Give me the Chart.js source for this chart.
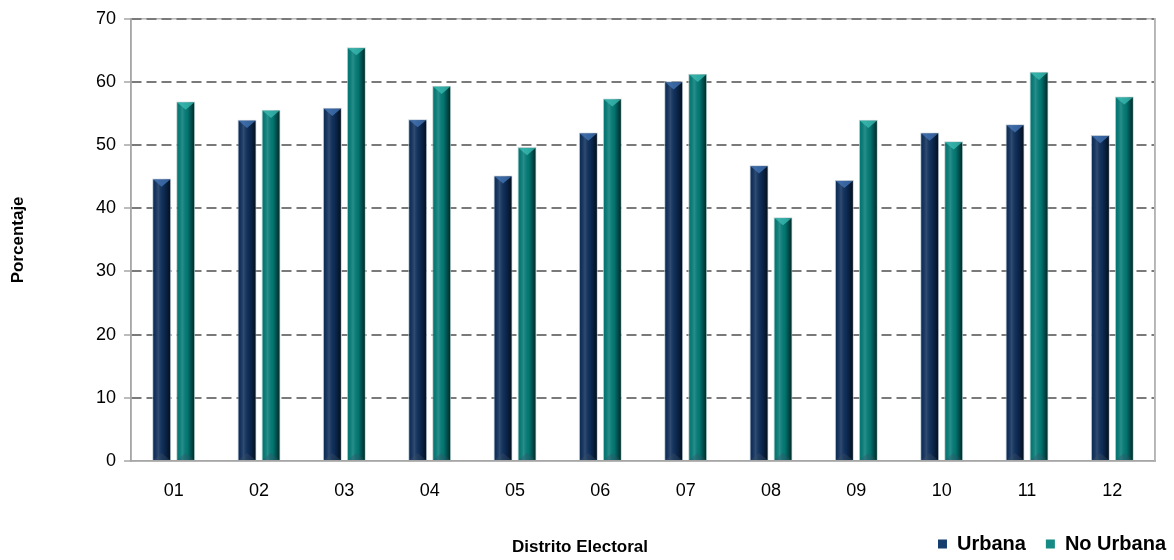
<!DOCTYPE html>
<html>
<head>
<meta charset="utf-8">
<script src="https://cdn.jsdelivr.net/npm/chart.js@4.4.0/dist/chart.umd.min.js"></script>
<style>
  html, body { margin: 0; padding: 0; background: #fff; }
  #wrap { width: 1174px; height: 560px; position: relative; }
</style>
</head>
<body>
<div id="wrap"><canvas id="chart" width="1174" height="560"></canvas></div>
<script>
const distritos = ['01', '02', '03', '04', '05', '06', '07', '08', '09', '10', '11', '12']
const urbana = [44.7, 54.0, 55.9, 54.1, 45.2, 52.0, 60.1, 46.8, 44.5, 52.0, 53.3, 51.6]
const noUrbana = [56.9, 55.6, 65.5, 59.4, 49.7, 57.4, 61.3, 38.6, 54.0, 50.6, 61.6, 57.7]
const yTicks = [0, 10, 20, 30, 40, 50, 60, 70]

const NAVY = '#0e2f5c'
const TEAL = '#047d79'
const FONT = '"Liberation Sans", Arial, sans-serif'

// light frame around the plot area, under the dashed grid
const framePlugin = {
  id: 'frame',
  beforeDraw(chart) {
    const { ctx, chartArea: a } = chart
    ctx.save()
    ctx.strokeStyle = '#b4b4b4'
    ctx.lineWidth = 1.5
    ctx.strokeRect(a.left, a.top, a.right - a.left, a.bottom - a.top)
    ctx.restore()
  }
}

// cylinder-like shading + bevel on top of every bar
const shadePlugin = {
  id: 'shade',
  afterDatasetsDraw(chart) {
    const ctx = chart.ctx
    chart.data.datasets.forEach((ds, i) => {
      const meta = chart.getDatasetMeta(i)
      const hi = i === 0 ? 'rgba(70,120,185,0.75)' : 'rgba(60,190,180,0.75)'
      meta.data.forEach(bar => {
        const l = bar.x - bar.width / 2 + 1
        const r = bar.x + bar.width / 2 - 1
        const top = bar.y + 1
        const bottom = bar.base
        const g = ctx.createLinearGradient(l, 0, r, 0)
        g.addColorStop(0, 'rgba(0,0,0,0.05)')
        g.addColorStop(0.3, 'rgba(255,255,255,0.14)')
        g.addColorStop(0.6, 'rgba(0,0,0,0.05)')
        g.addColorStop(1, 'rgba(0,0,0,0.65)')
        ctx.save()
        ctx.fillStyle = g
        ctx.fillRect(l, top, r - l, bottom - top)
        // top bevel
        const h = (r - l) * 0.42
        ctx.beginPath()
        ctx.moveTo(l, top)
        ctx.lineTo(r, top)
        ctx.lineTo(bar.x, top + h)
        ctx.closePath()
        ctx.fillStyle = hi
        ctx.fill()
        // faint bottom bevel
        ctx.beginPath()
        ctx.moveTo(l, bottom)
        ctx.lineTo(r, bottom)
        ctx.lineTo(bar.x, bottom - h)
        ctx.closePath()
        ctx.fillStyle = 'rgba(60,80,100,0.35)'
        ctx.fill()
        ctx.restore()
      })
    })
  }
}

// x axis title sits level with the legend, left of centre
const xTitlePlugin = {
  id: 'xTitle',
  afterDraw(chart) {
    const ctx = chart.ctx
    ctx.save()
    ctx.font = 'bold 17px ' + FONT
    ctx.fillStyle = '#000'
    ctx.textAlign = 'center'
    ctx.textBaseline = 'middle'
    ctx.fillText('Distrito Electoral', 580, 547)
    ctx.restore()
  }
}

const ctx = document.getElementById('chart').getContext('2d')
new Chart(ctx, {
  type: 'bar',
  data: {
    labels: distritos,
    datasets: [{
      label: 'Urbana',
      data: urbana,
      backgroundColor: NAVY,
      borderColor: 'rgba(185,198,212,0.9)',
      borderWidth: 1,
      barPercentage: 0.79,
      categoryPercentage: 0.5625
    }, {
      label: 'No Urbana',
      data: noUrbana,
      backgroundColor: TEAL,
      borderColor: 'rgba(185,205,205,0.9)',
      borderWidth: 1,
      barPercentage: 0.79,
      categoryPercentage: 0.5625
    }]
  },
  options: {
    responsive: false,
    animation: false,
    layout: { padding: { top: 16, right: -12, left: 0, bottom: -4 } },
    plugins: {
      tooltip: { enabled: false },
      legend: {
        position: 'bottom',
        align: 'end',
        labels: {
          boxWidth: 9,
          boxHeight: 9,
          padding: 20,
          color: '#000',
          font: { family: FONT, size: 20, weight: 'bold' },
          generateLabels(chart) {
            return chart.data.datasets.map((ds, i) => ({
              text: ds.label,
              fillStyle: i === 0 ? '#173d6e' : '#168a85',
              strokeStyle: i === 0 ? '#173d6e' : '#168a85',
              lineWidth: 0,
              datasetIndex: i
            }))
          }
        }
      }
    },
    scales: {
      x: {
        grid: { display: false },
        border: { display: true, color: '#a6a6a6', width: 1.5 },
        ticks: {
          color: '#000',
          padding: 11,
          font: { family: FONT, size: 18 }
        },
        afterFit(scale) { scale.height = 53 }
      },
      y: {
        min: 0,
        max: 70,
        afterBuildTicks(scale) { scale.ticks = yTicks.map(v => ({ value: v })) },
        ticks: {
          color: '#000',
          padding: 8,
          font: { family: FONT, size: 18 }
        },
        grid: {
          color: c => (c.tick && c.tick.value === 0 ? 'rgba(0,0,0,0)' : '#7a7a7a'),
          lineWidth: 2,
          tickLength: 7,
          tickColor: '#a6a6a6',
          tickWidth: 1.5,
          tickBorderDash: []
        },
        border: { display: true, color: '#a6a6a6', width: 1.5, dash: [10, 5] },
        title: {
          display: true,
          text: 'Porcentaje',
          color: '#000',
          padding: { top: 8, bottom: 0 },
          font: { family: FONT, size: 17, weight: 'bold' }
        },
        afterFit(scale) { scale.width = 131 }
      },
      yRight: {
        position: 'right',
        min: 0,
        max: 70,
        grid: { display: false },
        ticks: { display: false },
        border: { display: true, color: '#b4b4b4', width: 1.5 },
        afterFit(scale) { scale.width = 31 }
      }
    }
  },
  plugins: [framePlugin, shadePlugin, xTitlePlugin]
})
</script>
</body>
</html>
